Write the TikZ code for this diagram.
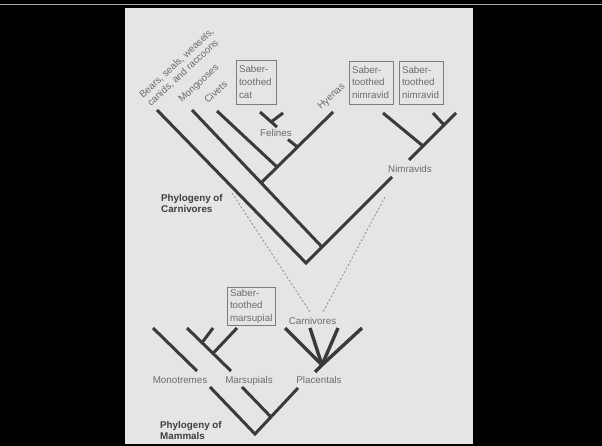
\documentclass[tikz,border=0pt]{standalone}
\usepackage{fontspec}
\setmainfont{Liberation Sans}
\definecolor{pagegray}{RGB}{229,229,229}
\definecolor{linecol}{RGB}{58,58,58}
\definecolor{labelcol}{RGB}{108,108,108}
\definecolor{titlecol}{RGB}{62,62,62}
\definecolor{boxcol}{RGB}{125,125,125}
\definecolor{dashcol}{RGB}{140,140,140}
\tikzset{
  branch/.style={draw=linecol, line width=3pt},
  fanline/.style={draw=linecol, line width=3.4pt},
  linkdash/.style={draw=dashcol, line width=0.8pt, dash pattern=on 2pt off 2pt},
  lbl/.style={text=labelcol, inner sep=0pt, font=\fontsize{9.8}{12}\selectfont},
  rlbl/.style={lbl, anchor=base west, rotate=43},
  ttl/.style={text=titlecol, inner sep=0pt, anchor=base west, font=\fontsize{9.8}{11}\selectfont\bfseries},
  sbox/.style={draw=boxcol, line width=0.8pt, text=labelcol, inner xsep=3pt, inner ysep=0pt,
     align=left, font=\fontsize{9.8}{12.5}\selectfont, minimum height=#1},
}
\begin{document}
\begin{tikzpicture}[x=1pt,y=-1pt]
\useasboundingbox (0,0) rectangle (602,446);
\fill[black] (0,0) rectangle (602,446);
\draw[gray!70, line width=0.8pt] (0,4) -- (602,4);
\fill[pagegray] (125,8) rectangle (473,444);

% ---------- Carnivore tree ----------
\coordinate (cr) at (306,263);
\coordinate (bt) at (157,110);
\coordinate (mt) at (192,110);
\coordinate (mj) at (322,247);
\coordinate (ht) at (333,112);
\coordinate (hj) at (261,183);
\coordinate (ct) at (217,111);
\coordinate (cj) at (277,167);
\coordinate (fj) at (297.5,147);
\coordinate (fs) at (288,139.5);
\coordinate (f1) at (277,127);
\coordinate (f2) at (260,112);
\coordinate (f3) at (283,113);
\coordinate (f4) at (271,122);
\coordinate (nl) at (392,177);
\coordinate (nu) at (409,160);
\coordinate (nt) at (456,113);
\coordinate (n1) at (383,113);
\coordinate (n1j) at (423,146);
\coordinate (n2) at (433,113);
\coordinate (n2j) at (444,125);

\draw[branch] (bt) -- (cr) -- (nl);
\draw[branch] (nu) -- (nt);
\draw[branch] (mt) -- (mj);
\draw[branch] (ht) -- (hj);
\draw[branch] (ct) -- (cj);
\draw[branch] (fj) -- (fs);
\draw[branch] (f1) -- (f2);
\draw[branch] (f3) -- (f4);
\draw[branch] (n1) -- (n1j);
\draw[branch] (n2) -- (n2j);

% rotated taxon labels
\node[rlbl] (bears1) at (143,99) {Bears, seals, weasels,};
\node[rlbl] (bears2) at (151,107) {canids, and raccoons};
\node[rlbl] (mong) at (182,103) {Mongooses};
\node[rlbl] (civ) at (208,104) {Civets};
\node[rlbl] (hyen) at (321,110) {Hyenas};

\node[lbl, anchor=base] (fel) at (276,136.5) {Felines};
\node[lbl, anchor=base] (nimr) at (410,172.5) {Nimravids};

% boxes
\node[sbox=44pt, text width=34pt] (bcat) at (256,82) {Saber-\\toothed\\cat};
\node[sbox=43pt, text width=38pt] (bn1) at (371,82.5) {Saber-\\toothed\\nimravid};
\node[sbox=43pt, text width=38pt] (bn2) at (421,82.5) {Saber-\\toothed\\nimravid};
\node[sbox=38pt, text width=42pt] (bmar) at (251,306) {Saber-\\toothed\\marsupial};

\node[ttl] (tc1) at (161,202) {Phylogeny of};
\node[ttl] (tc2) at (161,213) {Carnivores};

% ---------- Mammal tree ----------
\node[lbl, anchor=base] (carn) at (312.5,324.5) {Carnivores};
\coordinate (dl) at (232,193);
\coordinate (dle) at (310,312);
\coordinate (dr) at (385,197);
\coordinate (dre) at (323,312);
\draw[linkdash] (dl) -- (dle);
\draw[linkdash] (dr) -- (dre);

\coordinate (mo1) at (153,328);
\coordinate (mo2) at (197,371);
\coordinate (ma1) at (187,328);
\coordinate (ma2) at (231,371);
\coordinate (ma3) at (213,328);
\coordinate (ma3j) at (202,342.7);
\coordinate (ma4) at (237,328);
\coordinate (ma4j) at (213,353.4);
\draw[branch] (mo1) -- (mo2);
\draw[branch] (ma1) -- (ma2);
\draw[branch] (ma3) -- (ma3j);
\draw[branch] (ma4) -- (ma4j);

\coordinate (pc) at (322,365);
\coordinate (pt) at (315,372);
\coordinate (p1) at (285,328);
\coordinate (p2) at (310,328);
\coordinate (p3) at (338,328);
\coordinate (p4) at (362,328);
\draw[fanline] (p1) -- (pc);
\draw[fanline] (p2) -- (pc);
\draw[fanline] (p3) -- (pc);
\draw[fanline] (p4) -- (pc);
\draw[fanline] (pc) -- (pt);

\node[lbl, anchor=base] (mono) at (180,383.5) {Monotremes};
\node[lbl, anchor=base] (mars) at (249,383.5) {Marsupials};
\node[lbl, anchor=base] (plac) at (319,383.5) {Placentals};

\coordinate (mr) at (255,434);
\coordinate (ml) at (210,387);
\coordinate (mrr) at (298,388);
\coordinate (mm) at (242,387);
\coordinate (mmj) at (271,417);
\draw[branch] (ml) -- (mr) -- (mrr);
\draw[branch] (mm) -- (mmj);

\node[ttl] (tm1) at (160,428) {Phylogeny of};
\node[ttl] (tm2) at (160,439) {Mammals};
\end{tikzpicture}
\end{document}
